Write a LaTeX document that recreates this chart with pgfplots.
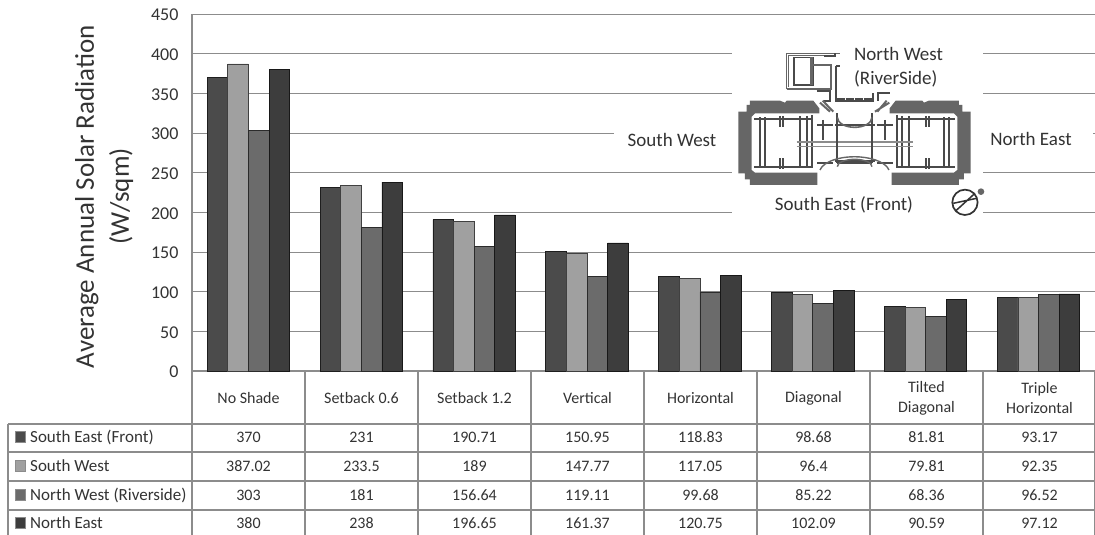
\documentclass[border=0pt]{standalone}
\usepackage{fontspec}
\setmainfont{Carlito}
\usepackage{pgfplots}
\usepackage{pgfplotstable}
\pgfplotsset{compat=1.18}

\definecolor{seA}{HTML}{4B4B4B}
\definecolor{swA}{HTML}{A0A0A0}
\definecolor{nwA}{HTML}{6B6B6B}
\definecolor{neA}{HTML}{3D3D3D}
\definecolor{txt}{HTML}{333333}
\definecolor{rule}{HTML}{8C8C8C}
\definecolor{plan}{HTML}{666666}
\definecolor{wall}{HTML}{4A4A4A}

% one row per shading type
\pgfplotstableread{
x se     sw     nw     ne
0 370    387.02 303    380
1 231    233.5  181    238
2 190.71 189    156.64 196.65
3 150.95 147.77 119.11 161.37
4 118.83 117.05 99.68  120.75
5 98.68  96.4   85.22  102.09
6 81.81  79.81  68.36  90.59
7 93.17  92.35  96.52  97.12
}\solar

\begin{document}
\begin{tikzpicture}[x=1pt,y=1pt]
\path[use as bounding box] (0,0) rectangle (1095,-535);

\begin{axis}[
    at={(192pt,-371pt)}, anchor=south west,
    scale only axis, width=903pt, height=357pt,
    ybar=0pt, bar width=20.6pt,
    xmin=-0.5, xmax=7.5, ymin=0, ymax=450,
    ytick={0,50,...,450}, xtick=\empty,
    ymajorgrids,
    grid style={rule,line width=1pt},
    axis x line*=bottom, axis y line*=left,
    axis line style={rule,line width=1.2pt,-},
    major tick length=0pt,
    tick label style={font=\fontsize{18}{18}\selectfont,text=txt},
    /pgf/number format/assume math mode=true,
    yticklabel style={xshift=-10pt,yshift=-1pt},
    ylabel={Average Annual Solar Radiation\\(W/sqm)},
    ylabel style={align=center,font=\fontsize{27}{35}\selectfont,text=txt,yshift=11pt,xshift=-4pt},
]
\addplot[fill=seA,draw=black!60!seA,line width=0.8pt] table[x=x,y=se] {\solar};
\addplot[fill=swA,draw=black!60!swA,line width=0.8pt] table[x=x,y=sw] {\solar};
\addplot[fill=nwA,draw=black!60!nwA,line width=0.8pt] table[x=x,y=nw] {\solar};
\addplot[fill=neA,draw=black!60!neA,line width=0.8pt] table[x=x,y=ne] {\solar};
\end{axis}

% data table under the bars
\draw[rule,line width=1.3pt] (192,-371) -- (192,-535);
\foreach \X in {305,418,531,644,757,870,983,1094.5}
  \draw[rule,line width=1.3pt] (\X,-371) -- (\X,-535);
\draw[rule,line width=1.3pt] (8,-424) -- (8,-535);
\foreach \Y in {424,452,481,510}
  \draw[rule,line width=1.3pt] (8,-\Y) -- (1095,-\Y);

\foreach \i/\lab in {0/No Shade,1/Setback 0.6,2/Setback 1.2,3/Vertical,4/Horizontal,5/Diagonal,6/Tilted\\Diagonal,7/Triple\\Horizontal}
  \node[align=center,text=txt,font=\fontsize{16}{20}\selectfont] at (248.5+113*\i,-398) {\lab};

\foreach \r/\col/\name/\c/\Y in {se/seA/South East (Front)/0/437.5,sw/swA/South West/1/466,nw/nwA/North West (Riverside)/2/495,ne/neA/North East/3/523}{
  \fill[\col] (15,-\Y+6) rectangle (25,-\Y-5);
  \draw[rule,line width=0.6pt] (15,-\Y+6) rectangle (25,-\Y-5);
  \node[anchor=west,inner sep=0pt,text=txt,font=\fontsize{17}{18}\selectfont] at (30,-\Y) {\name};
  \foreach \i in {0,...,7}{
    \pgfplotstablegetelem{\i}{\r}\of\solar
    \node[text=txt,font=\fontsize{16}{18}\selectfont] at (248.5+113*\i,-\Y) {\pgfplotsretval};
  }
}

% floor plan inset, white patch cuts the gridlines
\fill[white] (732,-46) rectangle (983,-224);
\fill[white] (614,-120) rectangle (740,-150);
\fill[white] (983,-120) rectangle (1093,-150);
\begin{scope}[shift={(600,-30)},x=0.3333pt,y=-0.3333pt]
  \def\wing{(415,245)--(440,245)--(440,225)--(450,225)--(450,212)--(540,212)--(555,218)--(560,212)--(640,212)--(658,235)--(658,250)--(465,250)--(455,260)--(455,420)--(465,428)--(652,428)--(652,465)--(450,465)--(450,448)--(435,448)--(435,430)--(415,430)--cycle}
  \def\rooms{(462,268)--(640,268) (462,410)--(640,410) (480,262)--(480,415) (495,262)--(495,415) (540,258)--(540,292) (548,258)--(548,292) (540,385)--(540,418) (548,385)--(548,418) (600,262)--(600,415) (620,258)--(620,415) (636,255)--(636,415) (600,262)--(600,258)}
  \fill[plan] \wing;
  \draw[wall,line width=2pt] \rooms;
  \begin{scope}[shift={(1527,0)},xscale=-1]
    \fill[plan] \wing;
    \draw[wall,line width=2pt] \rooms;
  \end{scope}
  \draw[rule,line width=1.4pt] (590,336)--(940,336) (590,350)--(940,350);
  \draw[wall,line width=2pt]
    (705,284)--(825,284) (705,392)--(825,392) (710,250)--(710,400) (815,250)--(815,400)
    (652,285)--(700,285) (830,285)--(880,285) (652,400)--(700,400) (830,400)--(880,400)
    (670,270)--(670,330) (855,270)--(855,330);
  \draw[wall,line width=3pt] (712,398)--(815,398);
  \draw[plan,line width=1.6pt] (712,262) arc[start angle=180,end angle=0,x radius=52,y radius=30];
  \draw[plan,line width=1.4pt] (660,420) arc[start angle=190,end angle=350,x radius=105,y radius=48];
  \draw[plan,line width=1.4pt] (712,410) arc[start angle=180,end angle=360,x radius=52,y radius=22];
  % annex at the top
  \draw[plan,line width=1.4pt] (560,178)--(560,70)--(720,70);
  \draw[plan,line width=1.4pt] (566,172)--(566,76)--(672,76);
  \draw[wall,line width=1.6pt] (582,165)--(582,82)--(640,82)--(640,165)--cycle;
  \draw[plan,line width=3pt] (634,82)--(634,165);
  \draw[plan,line width=1.8pt] (640,105)--(692,105)--(692,178)--(560,178);
  \draw[wall,line width=1.8pt] (672,78)--(705,78)--(705,70) (708,108)--(720,108) (708,108)--(708,212)--(820,212)--(820,190) (650,182)--(690,182)--(690,212)--(672,212) (835,212)--(835,190)--(870,190);
  \draw[plan,line width=2pt] (660,218)--(690,245) (868,218)--(825,245) (668,212)--(700,245) (860,212)--(832,245);
  \draw[wall,line width=2.6pt,dash pattern=on 8pt off 1pt] (710,208)--(815,208);
  % north mark
  \draw[black!80,line width=1.7pt] (1095,517) circle[radius=38];
  \draw[black!80,line width=1.5pt] (1068,542)--(1125,490) (1060,520)--(1130,505);
  \fill[plan] (1143,485) circle[radius=10];
\end{scope}
\node[text=txt,font=\fontsize{19}{24}\selectfont,align=left,anchor=north west,inner sep=0pt] at (854,-47) {North West\\(RiverSide)};
\node[text=txt,font=\fontsize{19}{18}\selectfont] at (672,-140) {South West};
\node[text=txt,font=\fontsize{19}{18}\selectfont] at (1031,-138.5) {North East};
\node[text=txt,font=\fontsize{19}{18}\selectfont] at (844,-205) {South East (Front)};
\end{tikzpicture}
\end{document}
